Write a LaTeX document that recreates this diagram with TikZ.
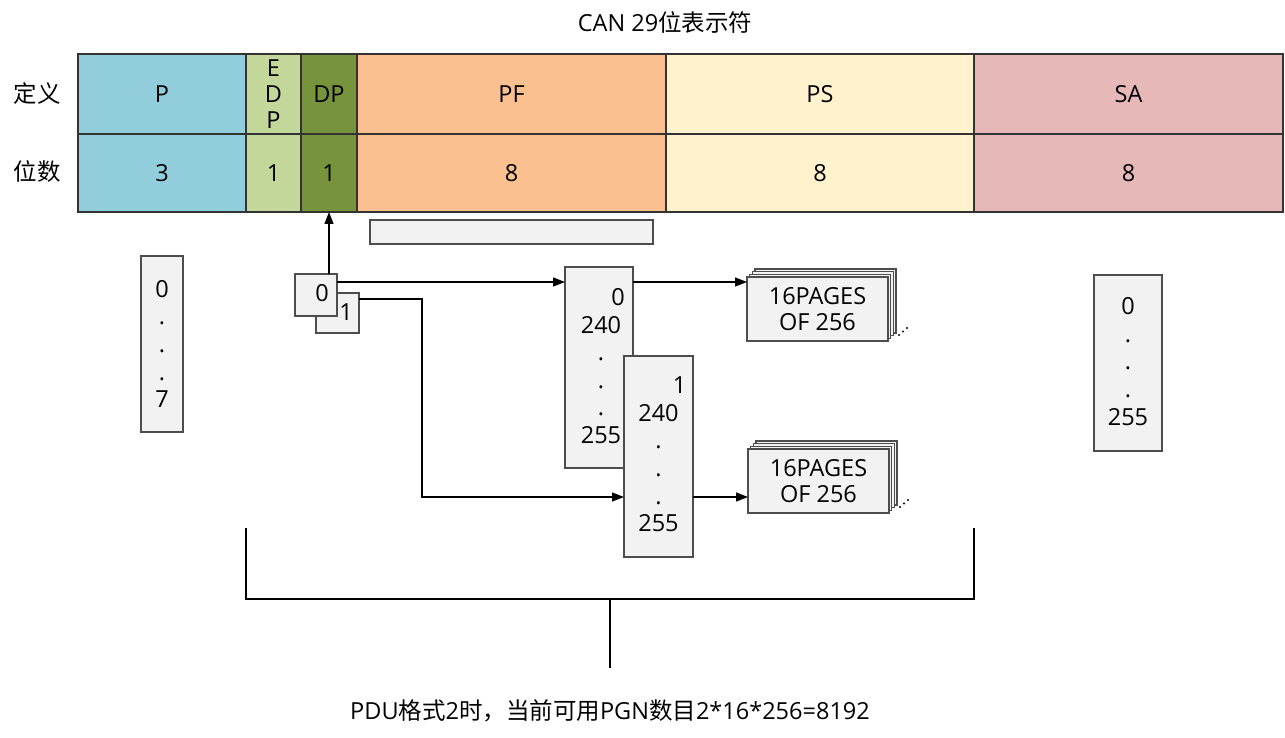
\documentclass[tikz,border=0pt]{standalone}
\usepackage{fontspec}
\setmainfont{Open Sans}
\newfontfamily\cjk{Noto Sans CJK SC}
\usetikzlibrary{arrows.meta,calc}

\definecolor{cP}{HTML}{92CDDC}
\definecolor{cEDP}{HTML}{C4D79B}
\definecolor{cDP}{HTML}{77933C}
\definecolor{cPF}{HTML}{FAC090}
\definecolor{cPS}{HTML}{FFF2CC}
\definecolor{cSA}{HTML}{E6B9B8}
\definecolor{boxfill}{HTML}{F2F2F2}
\definecolor{boxline}{HTML}{4D4D4D}

\begin{document}
\begin{tikzpicture}[x=1pt,y=-1pt,
  font=\fontsize{23.5pt}{26pt}\selectfont,
  cell/.style={draw=black!80, line width=1.4pt, inner sep=0pt, outer sep=0pt,
               anchor=north west, align=center},
  gbox/.style={draw=boxline, fill=boxfill, line width=1.3pt, inner sep=0pt,
               outer sep=0pt, anchor=north west},
  arr/.style={line width=1.3pt, -{Triangle[length=12pt,width=9pt]}},
  col/.style={align=center, inner sep=0pt, font=\fontsize{23.5pt}{27.6pt}\selectfont},
  pages/.style={gbox, minimum width=141pt, minimum height=64pt, align=center},
]
\useasboundingbox (0,0) rectangle (1285,738);

% title
\node (title) at (665,22) {CAN 29{\cjk 位表示符}};

% row headers
\node (hdef) at (37,94) {\cjk 定义};
\node (hbits) at (37,172) {\cjk 位数};

% identifier fields: name row
\node[cell, fill=cP,   minimum width=168pt, minimum height=80pt] (pT)   at (78,54)  {P};
\node[cell, fill=cEDP, minimum width=55pt,  minimum height=80pt] (edpT) at (246,54) {E\\D\\P};
\node[cell, fill=cDP,  minimum width=56pt,  minimum height=80pt] (dpT)  at (301,54) {DP};
\node[cell, fill=cPF,  minimum width=309pt, minimum height=80pt] (pfT)  at (357,54) {PF};
\node[cell, fill=cPS,  minimum width=308pt, minimum height=80pt] (psT)  at (666,54) {PS};
\node[cell, fill=cSA,  minimum width=309pt, minimum height=80pt] (saT)  at (974,54) {SA};
% identifier fields: bit count row
\node[cell, fill=cP,   minimum width=168pt, minimum height=78pt] (pB)   at (78,134)  {3};
\node[cell, fill=cEDP, minimum width=55pt,  minimum height=78pt] (edpB) at (246,134) {1};
\node[cell, fill=cDP,  minimum width=56pt,  minimum height=78pt] (dpB)  at (301,134) {1};
\node[cell, fill=cPF,  minimum width=309pt, minimum height=78pt] (pfB)  at (357,134) {8};
\node[cell, fill=cPS,  minimum width=308pt, minimum height=78pt] (psB)  at (666,134) {8};
\node[cell, fill=cSA,  minimum width=309pt, minimum height=78pt] (saB)  at (974,134) {8};

% empty bar under PF
\node[gbox, minimum width=283pt, minimum height=24pt] (pfbar) at (370,220) {};

% P value range
\node[gbox, minimum width=42pt, minimum height=176pt] (vP) at (141,256) {};
\node[col] (vPt) at (vP.center) {0\\.\\.\\.\\7};

% SA value range
\node[gbox, minimum width=68pt, minimum height=176pt] (vSA) at (1094,275) {};
\node[col] (vSAt) at ([yshift=1.5pt]vSA.center) {0\\.\\.\\.\\255};

% DP selector boxes
\node[gbox, minimum width=43pt, minimum height=40pt] (box1) at (316,293) {};
\node (box1t) at (346,312) {1};
\node[gbox, minimum width=42pt, minimum height=42pt] (box0) at (295,274) {};
\node (box0t) at (322,293) {0};

% PF ranges for DP=0 and DP=1
\node[gbox, minimum width=68pt, minimum height=201pt] (boxA) at (565,267) {};
\node[col] (boxAt) at ([xshift=2pt,yshift=1.5pt]boxA.center) {\hspace*{34pt}0\\240\\.\\.\\.\\255};
\node[gbox, minimum width=69pt, minimum height=201pt] (boxB) at (624,356) {};
\node[col] (boxBt) at ([yshift=2pt]boxB.center) {\hspace*{42pt}1\\240\\.\\.\\.\\255};

% page stacks
\foreach \k in {3,2,1}
  \node[pages] at ({747+2.7*\k},{277-2.7*\k}) {};
\node[pages] (pg1) at (747,277) {16PAGES\\OF 256};
\foreach \k in {3,2,1}
  \node[pages] at ({748+2.7*\k},{449-2.7*\k}) {};
\node[pages] (pg2) at (748,449) {16PAGES\\OF 256};
\foreach \p in {pg1,pg2}
  \foreach \dx/\dy in {11/-6,15/-9.5,19/-13}
    \fill ([xshift=\dx pt,yshift=-\dy pt]\p.south east) circle (1.1pt);

% connectors
\draw[arr] (box0.north -| dpB.south) -- (dpB.south);
\coordinate (aIn) at ([yshift=-15pt]boxA.north west);
\draw[arr] (box0.east |- aIn) -- (aIn);
\coordinate (bIn) at ([yshift=-141pt]boxB.north west);
\coordinate (bend) at (422,0);
\draw[arr] ([yshift=-6pt]box1.north east) -| (bend |- bIn) -- (bIn);
\coordinate (p1In) at ([yshift=-5pt]pg1.north west);
\draw[arr] (boxA.east |- p1In) -- (p1In);
\coordinate (p2In) at ([yshift=-48pt]pg2.north west);
\draw[arr] (boxB.east |- p2In) -- (p2In);

% bracket spanning EDP .. PS
\coordinate (bl) at (246,528);
\coordinate (br) at (974,528);
\coordinate (bm) at (610,599);
\coordinate (bt) at (610,668);
\draw[line width=1.6pt] (bl) |- (br |- bm) -- (br);
\draw[line width=1.3pt] (bm) -- (bt);

\node (note) at (610,711) {PDU{\cjk 格式}2{\cjk 时，当前可用}PGN{\cjk 数目}2*16*256=8192};
\end{tikzpicture}
\end{document}
